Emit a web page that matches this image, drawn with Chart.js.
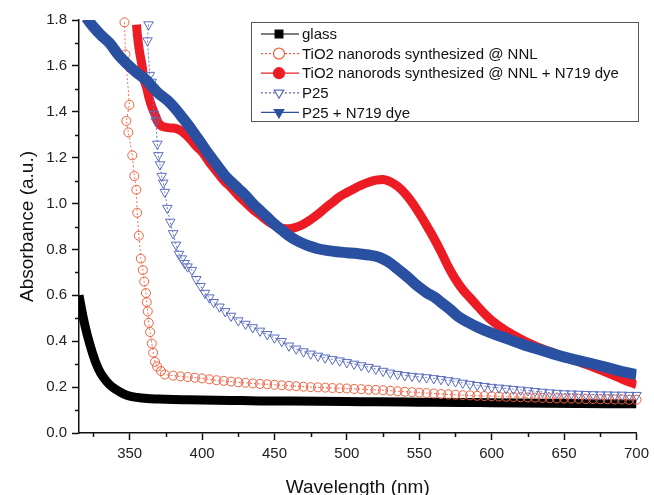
<!DOCTYPE html>
<html>
<head>
<meta charset="utf-8">
<script src="https://cdn.jsdelivr.net/npm/chart.js@4.4.1/dist/chart.umd.min.js"></script>
<style>
  html, body { margin: 0; padding: 0; background: #fff; overflow: hidden; }
  #wrap { width: 654px; height: 495px; }
</style>
</head>
<body>
<div id="wrap"><canvas id="absChart" width="654" height="495"></canvas></div>
<script>
// glass
var glassX = [315, 318, 321, 324, 327, 330, 334, 338, 343, 348, 355, 362, 370, 380, 390, 400, 420, 440, 460, 480, 500, 520, 540, 560, 580, 600, 620, 640, 660, 680, 700];
var glassY = [0.60, 0.50, 0.42, 0.355, 0.30, 0.26, 0.225, 0.20, 0.18, 0.165, 0.155, 0.15, 0.148, 0.146, 0.145, 0.144, 0.142, 0.14, 0.139, 0.138, 0.137, 0.136, 0.135, 0.134, 0.133, 0.132, 0.131, 0.13, 0.129, 0.128, 0.127];

// TiO2 nanorods synthesized @ NNL
var tioX = [346.4, 347.1, 349.8, 347.7, 349.1, 351.8, 353.2, 354.6, 355.2, 356.3, 357.7, 359.1, 360, 361.2, 361.8, 362.5, 363.2, 364.1, 365.3, 366.2, 367.5, 368.9, 371.6, 374.3,
  380, 385, 390, 395, 400, 405, 410, 415, 420, 425, 430, 435, 440, 445, 450, 455, 460, 465, 470, 475, 480, 485, 490, 495, 500,
  505, 510, 515, 520, 525, 530, 535, 540, 545, 550, 555, 560, 565, 570, 575, 580, 585, 590, 595, 600,
  605, 610, 615, 620, 625, 630, 635, 640, 645, 650, 655, 660, 665, 670, 675, 680, 685, 690, 695, 700];
var tioY = [1.79, 1.65, 1.43, 1.36, 1.31, 1.21, 1.12, 1.06, 0.96, 0.86, 0.76, 0.71, 0.66, 0.61, 0.57, 0.53, 0.48, 0.44, 0.39, 0.35, 0.31, 0.29, 0.27, 0.255,
  0.25, 0.247, 0.244, 0.241, 0.238, 0.234, 0.230, 0.227, 0.224, 0.221, 0.219, 0.216, 0.214, 0.212, 0.210, 0.208, 0.206, 0.204, 0.202, 0.200, 0.199, 0.198, 0.196, 0.195, 0.194,
  0.192, 0.191, 0.189, 0.188, 0.186, 0.184, 0.182, 0.180, 0.178, 0.176, 0.174, 0.172, 0.170, 0.168, 0.167, 0.165, 0.164, 0.162, 0.161, 0.160,
  0.159, 0.158, 0.157, 0.156, 0.155, 0.154, 0.153, 0.152, 0.151, 0.150, 0.150, 0.149, 0.148, 0.148, 0.147, 0.147, 0.146, 0.146, 0.145, 0.145];

// TiO2 nanorods synthesized @ NNL + N719 dye
var tioDyeX = [354.7, 355.4, 356.6, 357.7, 358.8, 359.5, 361.5, 363.4, 365.4, 368, 370, 373, 378, 383, 387, 392, 396, 400, 405, 410,
  415, 420, 425, 430, 435, 440, 445, 450, 455, 460, 465, 470, 475, 480, 485, 490, 495, 500, 505, 510,
  515, 520, 525, 530, 535, 540, 545, 550, 555, 560, 565, 570, 575, 580, 585, 590, 595, 600, 610, 620,
  630, 640, 650, 660, 670, 680, 690, 700];
var tioDyeY = [1.78, 1.73, 1.67, 1.63, 1.59, 1.55, 1.51, 1.46, 1.42, 1.38, 1.35, 1.335, 1.33, 1.325, 1.31, 1.28, 1.25, 1.225, 1.18, 1.14,
  1.10, 1.07, 1.035, 1.005, 0.975, 0.95, 0.925, 0.905, 0.893, 0.89, 0.897, 0.91, 0.93, 0.953, 0.98, 1.005, 1.03, 1.048, 1.065, 1.08,
  1.093, 1.102, 1.105, 1.095, 1.075, 1.045, 1.005, 0.957, 0.905, 0.85, 0.79, 0.725, 0.67, 0.625, 0.59, 0.555, 0.52, 0.49, 0.445, 0.41,
  0.38, 0.355, 0.333, 0.31, 0.287, 0.262, 0.235, 0.21];

// P25
var p25X = [363, 362.3, 363.9, 365.3, 366.8, 368, 369.1, 369.8, 370.9, 372.1, 373.2, 374.3, 376, 378, 380, 382, 384, 386, 388, 390,
  393, 396, 399, 402, 405, 408, 412, 416, 420, 425,
  430, 435, 440, 445, 450, 455, 460, 465, 470, 475, 480, 485, 490, 495, 500, 505, 510, 515, 520, 525, 530, 535, 540, 545, 550,
  555, 560, 565, 570, 575, 580, 585, 590, 595, 600, 605, 610, 615, 620, 625, 630, 635, 640, 645, 650, 655, 660, 665, 670, 675, 680, 685, 690, 695, 700];
var p25Y = [1.78, 1.71, 1.56, 1.53, 1.39, 1.36, 1.26, 1.21, 1.17, 1.12, 1.09, 1.05, 0.98, 0.92, 0.87, 0.82, 0.78, 0.76, 0.74, 0.725,
  0.71, 0.67, 0.64, 0.61, 0.59, 0.57, 0.55, 0.53, 0.51, 0.49,
  0.475, 0.46, 0.445, 0.43, 0.415, 0.40, 0.38, 0.367, 0.355, 0.345, 0.336, 0.328, 0.321, 0.315, 0.308, 0.301, 0.294, 0.287, 0.279, 0.27, 0.262, 0.256, 0.251, 0.248, 0.245,
  0.242, 0.238, 0.234, 0.229, 0.224, 0.218, 0.213, 0.208, 0.204, 0.200, 0.197, 0.194, 0.191, 0.188, 0.185, 0.182, 0.179, 0.176, 0.174, 0.172, 0.171, 0.170, 0.169, 0.168, 0.167, 0.167, 0.166, 0.166, 0.165, 0.165];

// P25 + N719 dye
var p25DyeX = [320, 325, 330, 336, 342, 348, 354, 361, 370, 376, 382, 387, 393, 398, 404, 410, 416, 420, 425, 430,
  435, 440, 445, 450, 455, 460, 465, 470, 475, 480, 487, 493, 500, 507, 515, 520, 525, 530, 535, 540,
  545, 550, 555, 561, 566, 572, 577, 583, 590, 600, 611, 622, 635, 645, 657, 668, 680, 690, 700];
var p25DyeY = [1.81, 1.77, 1.735, 1.70, 1.65, 1.61, 1.575, 1.54, 1.48, 1.45, 1.41, 1.37, 1.32, 1.275, 1.22, 1.17, 1.12, 1.095, 1.065, 1.035,
  1.0, 0.97, 0.94, 0.91, 0.885, 0.86, 0.84, 0.825, 0.813, 0.803, 0.795, 0.79, 0.786, 0.782, 0.776, 0.77, 0.758, 0.74, 0.715, 0.69,
  0.662, 0.635, 0.612, 0.59, 0.565, 0.535, 0.507, 0.485, 0.462, 0.435, 0.41, 0.385, 0.36, 0.34, 0.32, 0.304, 0.285, 0.268, 0.255];

var seriesNames = ["glass", "TiO2 nanorods synthesized @ NNL", "TiO2 nanorods synthesized @ NNL + N719 dye", "P25", "P25 + N719 dye"];

var xTicks = [325, 350, 375, 400, 425, 450, 475, 500, 525, 550, 575, 600, 625, 650, 675, 700];
var yTicks = [0.0, 0.1, 0.2, 0.3, 0.4, 0.5, 0.6, 0.7, 0.8, 0.9, 1.0, 1.1, 1.2, 1.3, 1.4, 1.5, 1.6, 1.7, 1.8];

function toPoints(xs, ys) {
    var pts = [];
    for (var i = 0; i < Math.min(xs.length, ys.length); i++) {
        pts.push({ x: xs[i], y: ys[i] });
    }
    return pts;
}

function isMajorX(v) { return v % 50 === 0; }
function isMajorY(v) { return Math.round(v * 10) % 2 === 0; }

var fontName = "'Liberation Sans', Arial, sans-serif";

// legend drawn inside the plot, origin style: line - marker - line
var legendBox = {
    id: "legendBox",
    afterDatasetsDraw: function(chart) {
        var ctx = chart.ctx;
        var a = chart.chartArea;
        var x0 = a.left + 172, y0 = a.top + 2, w = 387, h = 99;
        ctx.save();
        ctx.fillStyle = "#fff";
        ctx.fillRect(x0, y0, w, h);
        ctx.strokeStyle = "#555";
        ctx.lineWidth = 1;
        ctx.strokeRect(x0 + 0.5, y0 + 0.5, w, h);
        chart.data.datasets.forEach(function(ds, i) {
            var y = y0 + 12 + i * 19.6;
            ctx.strokeStyle = ds.legendColor;
            ctx.lineWidth = 1.2;
            ctx.setLineDash(ds.borderDash && ds.borderDash.length ? [2, 2] : []);
            ctx.beginPath();
            ctx.moveTo(x0 + 10, y);
            ctx.lineTo(x0 + 48, y);
            ctx.stroke();
            ctx.setLineDash([]);
            ctx.fillStyle = ds.legendFill;
            ctx.strokeStyle = ds.legendColor;
            Chart.helpers.drawPoint(ctx, {
                pointStyle: ds.pointStyle,
                rotation: ds.pointRotation || 0,
                radius: 5.5,
                borderWidth: 1
            }, x0 + 28, y);
            ctx.fillStyle = "#111";
            ctx.font = "15px " + fontName;
            ctx.textBaseline = "middle";
            ctx.fillText(ds.label, x0 + 51, y + 1);
        });
        ctx.restore();
    }
};

// shorter minor ticks, like the origin plot
var minorTicks = {
    id: "minorTicks",
    afterDraw: function(chart) {
        var ctx = chart.ctx, a = chart.chartArea;
        var xs = chart.scales.x, ys = chart.scales.y;
        ctx.save();
        ctx.strokeStyle = "#111";
        ctx.lineWidth = 1.5;
        ctx.beginPath();
        xTicks.forEach(function(v) {
            if (!isMajorX(v)) {
                var px = Math.round(xs.getPixelForValue(v)) + 0.5;
                ctx.moveTo(px, a.bottom);
                ctx.lineTo(px, a.bottom + 4);
            }
        });
        yTicks.forEach(function(v) {
            if (!isMajorY(v)) {
                var py = Math.round(ys.getPixelForValue(v)) + 0.5;
                ctx.moveTo(a.left, py);
                ctx.lineTo(a.left - 4, py);
            }
        });
        ctx.stroke();
        ctx.restore();
    }
};

var ctxAbs = document.getElementById("absChart");

var absChart = new Chart(ctxAbs, {
    type: "line",
    data: {
        datasets: [
            {
                label: seriesNames[0],
                data: toPoints(glassX, glassY),
                borderColor: "#000000",
                borderWidth: 9,
                pointRadius: 0,
                pointStyle: "rect",
                legendColor: "#000000",
                legendFill: "#000000",
                cubicInterpolationMode: "monotone",
                clip: 0,
                order: 5
            },
            {
                label: seriesNames[1],
                data: toPoints(tioX, tioY),
                borderColor: "#f2705a",
                borderWidth: 1,
                borderDash: [2, 2],
                pointRadius: 4.5,
                pointStyle: "circle",
                pointBackgroundColor: "rgba(255,255,255,0)",
                pointBorderColor: "#f0603f",
                pointBorderWidth: 1,
                legendColor: "#f0603f",
                legendFill: "#ffffff",
                tension: 0,
                clip: 6,
                order: 4
            },
            {
                label: seriesNames[2],
                data: toPoints(tioDyeX, tioDyeY),
                borderColor: "#ed1c24",
                borderWidth: 9,
                pointRadius: 0,
                pointStyle: "circle",
                legendColor: "#ed1c24",
                legendFill: "#ed1c24",
                cubicInterpolationMode: "monotone",
                clip: 0,
                order: 3
            },
            {
                label: seriesNames[3],
                data: toPoints(p25X, p25Y),
                borderColor: "#6a78c8",
                borderWidth: 1,
                borderDash: [2, 2],
                pointRadius: 5.5,
                pointStyle: "triangle",
                pointRotation: 180,
                pointBackgroundColor: "rgba(255,255,255,0)",
                pointBorderColor: "#5a6cc0",
                pointBorderWidth: 1,
                legendColor: "#5a6cc0",
                legendFill: "#ffffff",
                tension: 0,
                clip: 6,
                order: 2
            },
            {
                label: seriesNames[4],
                data: toPoints(p25DyeX, p25DyeY),
                borderColor: "#2a50a2",
                borderWidth: 11,
                pointRadius: 0,
                pointStyle: "triangle",
                pointRotation: 180,
                legendColor: "#2a50a2",
                legendFill: "#2a50a2",
                cubicInterpolationMode: "monotone",
                clip: 0,
                order: 1
            }
        ]
    },
    options: {
        responsive: false,
        animation: false,
        layout: { padding: { top: 20, right: 14, left: 0, bottom: 0 } },
        plugins: {
            legend: { display: false },
            tooltip: { enabled: false }
        },
        scales: {
            x: {
                type: "linear",
                min: 315,
                max: 700,
                afterBuildTicks: function(scale) {
                    scale.ticks = xTicks.map(function(v) { return { value: v }; });
                },
                afterFit: function(scale) { scale.height = 62; },
                ticks: {
                    autoSkip: false,
                    maxRotation: 0,
                    padding: 5,
                    color: "#222",
                    font: { family: fontName, size: 15 },
                    callback: function(v) { return isMajorX(v) ? String(v) : ""; }
                },
                grid: {
                    drawOnChartArea: false,
                    drawTicks: true,
                    tickLength: 7,
                    tickColor: function(c) {
                        return c.tick && isMajorX(c.tick.value) ? "#111" : "rgba(0,0,0,0)";
                    },
                    tickWidth: 1.5
                },
                border: { color: "#111", width: 1.5 },
                title: {
                    display: true,
                    text: "Wavelength (nm)",
                    color: "#111",
                    font: { family: fontName, size: 19 },
                    padding: { top: 10, bottom: -4 }
                }
            },
            y: {
                type: "linear",
                min: 0,
                max: 1.8,
                afterBuildTicks: function(scale) {
                    scale.ticks = yTicks.map(function(v) { return { value: v }; });
                },
                afterFit: function(scale) { scale.width = 79; },
                ticks: {
                    autoSkip: false,
                    padding: 5,
                    color: "#222",
                    font: { family: fontName, size: 15 },
                    callback: function(v) { return isMajorY(v) ? v.toFixed(1) : ""; }
                },
                grid: {
                    drawOnChartArea: false,
                    drawTicks: true,
                    tickLength: 7,
                    tickColor: function(c) {
                        return c.tick && isMajorY(c.tick.value) ? "#111" : "rgba(0,0,0,0)";
                    },
                    tickWidth: 1.5
                },
                border: { color: "#111", width: 1.5 },
                title: {
                    display: true,
                    text: "Absorbance (a.u.)",
                    color: "#111",
                    font: { family: fontName, size: 19 },
                    padding: { top: 16, bottom: 0 }
                }
            }
        }
    },
    plugins: [legendBox, minorTicks]
});
</script>
</body>
</html>
